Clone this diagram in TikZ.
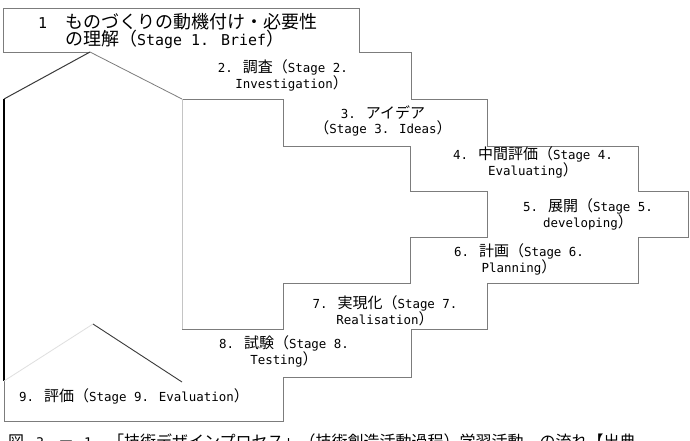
\documentclass[tikz,border=0pt]{standalone}
\usepackage{fontspec}
\setmainfont{Noto Sans CJK JP}
\newfontfamily\latfont{DejaVu Sans Mono}[Scale=0.83]
\newcommand{\engl}[1]{{\latfont #1}}
\usepackage{tikz}
\usetikzlibrary{positioning}
\definecolor{stepgray}{HTML}{7C7C7C}
\definecolor{arrowlight}{HTML}{C4C4C4}
\definecolor{arrowdark}{HTML}{3A3A3A}

\begin{document}
\begin{tikzpicture}[x=1pt, y=-1pt,
  stepline/.style={draw=stepgray, line width=0.8pt},
  stagetext/.style={font=\fontsize{15}{14.5}\selectfont, inner sep=0pt, align=center}]
  \useasboundingbox[fill=white] (0,0) rectangle (690,440);

  % outer steps
  \draw[stepline] (90,52) -- (3,52) -- (3,8) -- (359,8) -- (359,52) -- (411,52)
    -- (411,99) -- (487,99) -- (487,146) -- (638,146) -- (638,191) -- (688,191)
    -- (688,237) -- (638,237) -- (638,283) -- (487,283) -- (487,329) -- (411,329)
    -- (411,377) -- (283,377) -- (283,421) -- (4,421) -- (4,381);
  % inner steps
  \draw[stepline] (182,99) -- (283,99) -- (283,146) -- (410,146) -- (410,191)
    -- (487,191) -- (487,237) -- (410,237) -- (410,283) -- (283,283)
    -- (283,329) -- (182,329);

  % big arrow
  \draw[black, line width=1.8pt] (4,99) -- (4,381);
  \draw[arrowdark, line width=1pt] (4,99) -- (90,52);
  \draw[stepgray, line width=0.8pt] (90,52) -- (182,99);
  \draw[arrowlight, line width=0.8pt] (182,99) -- (182,329);
  \draw[gray!25, line width=0.8pt] (4,381) -- (93,324);
  \draw[arrowdark, line width=0.9pt] (93,324) -- (182,382);

  % stages
  \node[anchor=west, inner sep=0pt, align=left, font=\fontsize{18}{17}\selectfont] (st1) at (38,31.5)
    {\engl{1}　ものづくりの動機付け・必要性\\\phantom{\engl{1}　}の理解（\engl{Stage 1. Brief}）};
  \node[stagetext, anchor=east, align=right] (st2) at (348,75.5)
    {\engl{2. }調査（\engl{Stage 2.}\\\engl{Investigation}）};
  \node[stagetext] (st3) at (383,121) {\engl{3. }アイデア\\（\engl{Stage 3. Ideas}）};
  \node[stagetext] (st4) at (533,162.5) {\engl{4. }中間評価（\engl{Stage 4.}\\\engl{Evaluating}）};
  \node[stagetext] (st5) at (588,214.5) {\engl{5. }展開（\engl{Stage 5.}\\\engl{developing}）};
  \node[stagetext] (st6) at (519,259.5) {\engl{6. }計画（\engl{Stage 6.}\\\engl{Planning}）};
  \node[stagetext] (st7) at (385,311) {\engl{7. }実現化（\engl{Stage 7.}\\\engl{Realisation}）};
  \node[stagetext] (st8) at (284,351.5) {\engl{8. }試験（\engl{Stage 8.}\\\engl{Testing}）};
  \node[stagetext] (st9) at (134,396) {\engl{9. }評価（\engl{Stage 9. Evaluation}）};

  % caption (cut off at the bottom)
  \node[anchor=base west, inner sep=0pt, font=\fontsize{16}{16}\selectfont] (caption) at (8,447)
    {図\hspace{12pt}\engl{3}\hspace{14pt}－\hspace{10pt}\engl{1}\hspace{16pt}「技術デザインプロセス」（技術創造活動過程）学習活動　の流れ【出典};
\end{tikzpicture}
\end{document}
